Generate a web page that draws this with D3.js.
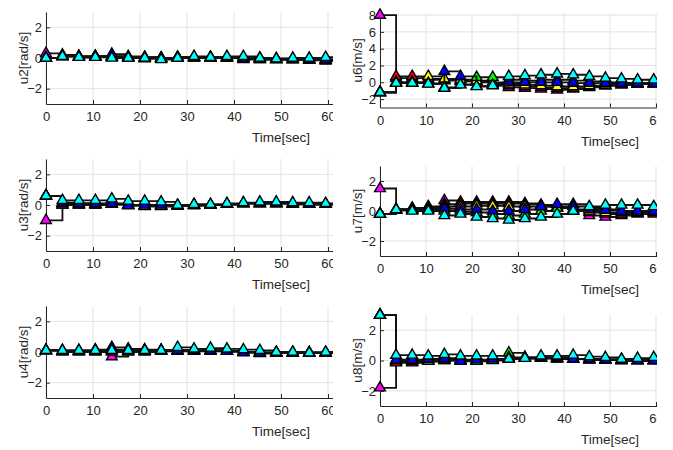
<!DOCTYPE html>
<html>
<head>
<meta charset="utf-8">
<script src="https://cdn.jsdelivr.net/npm/d3@7"></script>
<style>
    body { margin: 0; background: #fff; }
    text { font-family: "Liberation Sans", Arial, sans-serif; }
</style>
</head>
<body>
<div id="chart"></div>
<script>
// sample times (one marker every 3.5 s)
const times = [0, 3.5, 7, 10.5, 14, 17.5, 21, 24.5, 28, 31.5, 35, 38.5, 42, 45.5, 49, 52.5, 56, 59.5];
const xTicks = [0, 10, 20, 30, 40, 50, 60];
const yTicksSmall = [-2, 0, 2];
const yTicksU6 = [-2, 0, 2, 4, 6, 8];
// series order : magenta, red, yellow, green, blue, cyan
const seriesColors = ["#ff00ff", "#ff0000", "#ffff00", "#00ff00", "#0000ff", "#00ffff"];

const u2Values = [
    [0.3, 0.2, 0.1, 0.1, 0.1, 0.0, 0.0, 0.0, 0.0, 0.0, 0.0, 0.0, -0.1, -0.1, -0.1, -0.1, -0.15, -0.2],
    [0.0, 0.15, 0.1, 0.1, 0.05, 0.0, -0.05, -0.05, 0.0, 0.0, 0.0, 0.0, -0.05, -0.1, -0.1, -0.1, -0.1, -0.15],
    [0.0, 0.1, 0.1, 0.1, 0.1, 0.05, 0.0, 0.0, 0.05, 0.05, 0.0, 0.0, 0.0, -0.05, -0.1, -0.1, -0.1, -0.1],
    [0.0, 0.1, 0.05, 0.1, 0.1, 0.05, 0.05, 0.0, 0.05, 0.05, 0.05, 0.05, 0.0, -0.05, -0.05, -0.1, -0.1, -0.1],
    [0.0, 0.1, 0.05, 0.1, 0.25, 0.1, 0.05, 0.0, 0.05, 0.05, 0.05, 0.05, 0.0, 0.0, -0.05, -0.05, -0.1, -0.1],
    [0.0, 0.1, 0.05, 0.05, 0.0, 0.0, 0.0, -0.1, 0.0, 0.1, 0.05, 0.1, 0.1, 0.0, -0.05, 0.0, 0.0, 0.05]
];
const u3Values = [
    [-1.0, 0.0, 0.0, 0.0, 0.05, 0.0, -0.05, -0.05, -0.05, -0.05, 0.0, 0.05, 0.1, 0.1, 0.1, 0.05, 0.05, 0.05],
    [0.6, 0.0, 0.0, 0.05, 0.05, 0.0, -0.05, -0.05, -0.05, 0.0, 0.0, 0.05, 0.1, 0.1, 0.1, 0.05, 0.05, 0.05],
    [0.6, 0.1, 0.05, 0.0, 0.05, 0.0, -0.05, -0.05, -0.05, 0.0, 0.0, 0.05, 0.1, 0.1, 0.1, 0.1, 0.05, 0.05],
    [0.6, 0.1, 0.1, 0.05, 0.05, 0.0, -0.1, -0.1, -0.05, 0.0, 0.0, 0.05, 0.1, 0.1, 0.1, 0.1, 0.05, 0.05],
    [0.6, 0.15, 0.1, 0.1, 0.1, -0.05, 0.0, 0.0, -0.05, 0.0, 0.0, 0.05, 0.1, 0.1, 0.1, 0.1, 0.05, 0.05],
    [0.6, 0.3, 0.3, 0.3, 0.4, 0.25, 0.25, 0.2, 0.0, 0.05, 0.05, 0.1, 0.15, 0.2, 0.2, 0.15, 0.15, 0.1]
];
const u4Values = [
    [0.1, 0.0, 0.0, 0.0, -0.3, 0.0, 0.0, 0.05, 0.05, 0.05, 0.05, 0.05, 0.0, -0.05, -0.05, -0.05, -0.05, -0.05],
    [0.1, 0.05, 0.05, 0.05, 0.0, 0.05, 0.05, 0.1, 0.1, 0.1, 0.1, 0.05, 0.0, -0.05, -0.05, -0.05, -0.05, -0.05],
    [0.1, 0.05, 0.05, 0.05, 0.1, 0.1, 0.1, 0.1, 0.1, 0.1, 0.1, 0.05, 0.0, -0.05, -0.05, -0.05, -0.05, -0.05],
    [0.1, 0.05, 0.05, 0.1, 0.15, 0.15, 0.1, 0.1, 0.1, 0.1, 0.1, 0.05, 0.0, -0.1, -0.05, -0.05, -0.05, -0.05],
    [0.1, 0.1, 0.1, 0.15, 0.3, 0.2, 0.15, 0.1, 0.1, 0.1, 0.1, 0.05, -0.05, -0.05, -0.05, -0.05, -0.05, -0.05],
    [0.1, 0.1, 0.1, 0.1, 0.1, 0.1, 0.1, 0.1, 0.3, 0.2, 0.25, 0.2, 0.15, 0.1, 0.0, 0.0, -0.05, 0.0]
];
const u6Values = [
    [8.0, 0.5, 0.5, 0.3, 0.2, 0.1, 0.0, -0.2, -0.6, -0.7, -0.8, -0.9, -0.8, -0.6, -0.4, -0.3, -0.2, -0.2],
    [-1.2, 0.7, 0.7, 0.4, 0.3, 0.2, 0.1, -0.1, -0.4, -0.5, -0.6, -0.7, -0.7, -0.5, -0.4, -0.3, -0.2, -0.2],
    [-1.2, 0.0, 0.0, 0.7, 0.4, 0.3, 0.2, 0.0, -0.2, -0.3, -0.4, -0.5, -0.5, -0.4, -0.3, -0.2, -0.2, -0.1],
    [-1.2, -0.05, -0.05, -0.15, -0.6, -0.25, 0.6, 0.6, 0.3, 0.2, 0.3, 0.3, 0.2, 0.1, 0.0, -0.1, -0.1, -0.1],
    [-1.2, -0.05, -0.05, -0.15, 1.3, 0.7, -0.45, -0.35, 0.0, 0.0, 0.0, 0.0, -0.1, -0.1, -0.1, -0.1, -0.1, -0.1],
    [-1.2, -0.1, -0.1, -0.2, -0.7, -0.3, -0.5, -0.4, 0.7, 0.8, 0.9, 1.0, 0.9, 0.7, 0.5, 0.4, 0.3, 0.3]
];
const u7Values = [
    [1.5, 0.1, 0.2, 0.3, 0.7, 0.6, 0.6, 0.6, 0.6, 0.5, 0.4, 0.3, 0.0, -0.3, -0.4, -0.3, -0.2, -0.2],
    [-0.2, 0.1, 0.15, 0.25, 0.45, 0.5, 0.5, 0.5, 0.5, 0.45, 0.35, 0.2, 0.0, -0.1, -0.2, -0.2, -0.15, -0.1],
    [-0.2, 0.1, 0.1, 0.2, 0.3, 0.3, 0.35, 0.35, 0.3, 0.3, 0.3, 0.2, 0.1, 0.0, -0.1, -0.1, -0.1, -0.1],
    [-0.2, 0.05, 0.05, 0.1, 0.0, -0.05, -0.1, -0.2, -0.3, -0.2, 0.0, 0.2, 0.45, 0.2, 0.1, 0.0, 0.0, 0.0],
    [-0.2, 0.05, 0.1, 0.15, 0.15, 0.1, 0.1, 0.0, 0.0, 0.1, 0.3, 0.45, 0.3, 0.1, 0.05, 0.0, 0.0, 0.0],
    [-0.2, 0.1, 0.0, 0.0, -0.3, -0.2, -0.4, -0.5, -0.6, -0.5, -0.4, -0.2, 0.0, 0.3, 0.4, 0.4, 0.4, 0.3]
];
const u8Values = [
    [-1.8, -0.1, -0.1, -0.05, 0.0, 0.0, 0.0, 0.05, 0.1, 0.15, 0.15, 0.1, 0.1, 0.05, 0.05, 0.0, 0.0, 0.0],
    [3.0, -0.15, -0.15, -0.05, 0.0, 0.0, 0.0, 0.05, 0.1, 0.15, 0.15, 0.1, 0.1, 0.05, 0.05, 0.0, 0.0, 0.0],
    [3.0, 0.0, -0.05, -0.05, 0.05, 0.0, 0.0, 0.05, 0.1, 0.15, 0.15, 0.15, 0.1, 0.05, 0.05, 0.0, 0.0, 0.0],
    [3.0, 0.0, 0.0, 0.05, 0.1, 0.05, -0.05, 0.0, 0.5, 0.2, 0.2, 0.15, 0.1, 0.1, 0.05, 0.05, 0.0, 0.0],
    [3.0, 0.05, 0.05, 0.1, 0.15, -0.05, 0.05, 0.1, 0.2, 0.2, 0.2, 0.2, 0.1, 0.1, 0.05, 0.05, 0.0, 0.0],
    [3.0, 0.35, 0.35, 0.3, 0.4, 0.3, 0.3, 0.3, 0.1, 0.15, 0.3, 0.3, 0.35, 0.25, 0.2, 0.1, 0.15, 0.2]
];

const width = 673;
const height = 450;
const stepLength = 3.5;

// colonnes : position de l'axe et zone visible (la figure est rognée à droite)
const columns = [
    { x0: 46, perTen: 47, clipLeft: 0, clipRight: 333, yLabelX: 23 },
    { x0: 380, perTen: 46, clipLeft: 337, clipRight: 657, yLabelX: 357 }
];

const panels = [
    { label: "u2[rad/s]", values: u2Values, yDomain: [-3, 3], yTicks: yTicksSmall, col: 0, top: 12, bottom: 104 },
    { label: "u6[m/s]", values: u6Values, yDomain: [-3, 8.2], yTicks: yTicksU6, col: 1, top: 13.4, bottom: 107.5 },
    { label: "u3[rad/s]", values: u3Values, yDomain: [-3, 3], yTicks: yTicksSmall, col: 0, top: 159, bottom: 251 },
    { label: "u7[m/s]", values: u7Values, yDomain: [-3, 3], yTicks: yTicksSmall, col: 1, top: 166, bottom: 256 },
    { label: "u4[rad/s]", values: u4Values, yDomain: [-3, 3], yTicks: yTicksSmall, col: 0, top: 306, bottom: 398 },
    { label: "u8[m/s]", values: u8Values, yDomain: [-3, 3], yTicks: yTicksSmall, col: 1, top: 315, bottom: 406 }
];

const svg = d3.select("#chart")
    .append("svg")
    .attr("width", width)
    .attr("height", height);

const defs = svg.append("defs");
columns.forEach((c, i) => {
    defs.append("clipPath")
        .attr("id", "clipCol" + i)
        .append("rect")
        .attr("x", c.clipLeft)
        .attr("y", 0)
        .attr("width", c.clipRight - c.clipLeft)
        .attr("height", height);
});

const textColor = "#262626";

panels.forEach(p => {
    const c = columns[p.col];
    // l'axe x va de 0 à 100 mais seule la partie 0-60 reste visible
    const x = d3.scaleLinear()
        .domain([0, 100])
        .range([c.x0, c.x0 + c.perTen * 10]);
    const y = d3.scaleLinear()
        .domain(p.yDomain)
        .range([p.bottom, p.top]);

    const g = svg.append("g").attr("clip-path", `url(#clipCol${p.col})`);

    // grille
    g.append("g")
        .selectAll("line")
        .data(xTicks)
        .join("line")
        .attr("x1", d => x(d)).attr("x2", d => x(d))
        .attr("y1", p.top).attr("y2", p.bottom)
        .attr("stroke", "#e3e3e3");
    g.append("g")
        .selectAll("line")
        .data(p.yTicks)
        .join("line")
        .attr("x1", x(0)).attr("x2", x(100))
        .attr("y1", d => y(d)).attr("y2", d => y(d))
        .attr("stroke", "#e3e3e3");

    // axes (ticks vers l'intérieur)
    const xAxis = g.append("g")
        .attr("transform", `translate(0,${p.bottom})`)
        .call(d3.axisBottom(x).tickValues(xTicks).tickFormat(d3.format("d"))
            .tickSizeInner(-4).tickSizeOuter(0).tickPadding(8));
    const yAxis = g.append("g")
        .attr("transform", `translate(${c.x0},0)`)
        .call(d3.axisLeft(y).tickValues(p.yTicks).tickFormat(d3.format("d"))
            .tickSizeInner(-4).tickSizeOuter(0).tickPadding(4));
    [xAxis, yAxis].forEach(a => {
        a.selectAll("path,line").attr("stroke", textColor);
        a.selectAll("text")
            .attr("fill", textColor)
            .style("font-size", "13px")
            .style("font-family", '"Liberation Sans", Arial, sans-serif');
    });

    // libellés
    g.append("text")
        .attr("x", x(50))
        .attr("y", p.bottom + 38)
        .attr("text-anchor", "middle")
        .attr("fill", textColor)
        .style("font-size", "13.5px")
        .text("Time[sec]");
    g.append("text")
        .attr("transform", `translate(${c.yLabelX},${(p.top + p.bottom) / 2}) rotate(-90)`)
        .attr("text-anchor", "middle")
        .attr("dy", "0.35em")
        .attr("fill", textColor)
        .style("font-size", "13.5px")
        .text(p.label);

    // séries : escalier noir + triangles colorés
    const line = d3.line()
        .x(d => x(d[0]))
        .y(d => y(d[1]))
        .curve(d3.curveStepAfter);
    const tri = d3.symbol(d3.symbolTriangle).size(50);

    p.values.forEach((vals, i) => {
        const pts = times.map((t, k) => [t, vals[k]]);
        pts.push([times[times.length - 1] + stepLength, vals[vals.length - 1]]);
        g.append("path")
            .attr("d", line(pts))
            .attr("fill", "none")
            .attr("stroke", "#111")
            .attr("stroke-width", 1.8);
        g.append("g")
            .selectAll("path")
            .data(times.map((t, k) => [t, vals[k]]))
            .join("path")
            .attr("d", tri)
            .attr("transform", d => `translate(${x(d[0])},${y(d[1])})`)
            .attr("fill", seriesColors[i])
            .attr("stroke", "#000")
            .attr("stroke-width", 1.4);
    });
});
</script>
</body>
</html>
